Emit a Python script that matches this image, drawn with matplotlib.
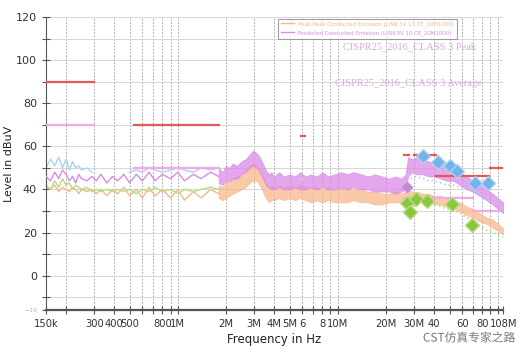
import matplotlib
matplotlib.use("Agg")
import matplotlib.pyplot as plt
import matplotlib.patheffects as pe
import numpy as np

# ---- data (frequencies in MHz, levels in dBuV) ----
f_lo = [0.15, 0.16, 0.17, 0.18, 0.19, 0.20, 0.21, 0.22, 0.23, 0.24, 0.25, 0.27, 0.29, 0.31, 0.33, 0.36,
        0.39, 0.42, 0.46, 0.50, 0.55, 0.60, 0.66, 0.72, 0.80, 0.90, 1.0, 1.1, 1.25, 1.4, 1.6, 1.8]
blue_lo = [50, 54, 51, 55, 50, 54, 49, 53, 50, 51, 49, 50, 48, np.nan, np.nan, np.nan,
           np.nan, np.nan, np.nan, 48, 49, 48, 50, 49, 48, 49, 50, 49, 48, 50, 49, 50]
violet_lo = [46, 44, 48, 45, 49, 47, 44, 46, 43, 47, 45, 44, 46, 44, 47, 43,
             46, 44, 47, 43, 47, 44, 48, 44, 47, 45, 48, 44, 47, 45, 48, 46]
green_lo = [42, 40, 44, 41, 45, 42, 43, 40, 42, 41, 40, 41, 39, 40, 39, 40,
            39, 40, 39, 40, 38, 40, 39, 41, 39, 40, 38, 40, 39, 40, 41, 40]
orange_lo = [41, 40, 42, 39, 41, 40, 39, 41, 40, 38, 40, 39, 40, 38, 40, 37,
             40, 38, 41, 37, 40, 36, 41, 37, 40, 36, 40, 35, 39, 36, 40, 38]

f_hi = [1.8, 1.9, 2.0, 2.1, 2.2, 2.35, 2.5, 2.65, 2.8, 2.95, 3.1, 3.25, 3.4, 3.55, 3.7, 3.85, 4.0, 4.3,
        4.6, 5.0, 5.4, 5.8, 6.3, 6.8, 7.4, 8.0, 8.7, 9.5, 10.5, 11.5, 12.5, 14, 15.5, 17, 19, 21, 23, 25,
        26.5, 27.5, 29, 31, 34, 37, 40, 44, 48, 53, 58, 64, 70, 77, 85, 93, 100, 108]
violet_hi_top = [50, 48, 51, 50, 52, 51, 53, 54, 56, 58, 57, 55, 52, 49, 47, 48, 46, 48,
                 46, 47, 46, 48, 46, 47, 46, 48, 46, 47, 48, 47, 48, 47, 46, 47, 46, 45, 46, 45,
                 47, 55, 54, 55, 54, 53, 52, 52, 51, 50, 48, 46, 44, 42, 40, 38, 36, 34]
violet_hi_bot = [43, 42, 44, 44, 45, 45, 47, 48, 50, 51, 50, 48, 45, 42, 41, 40, 40, 41,
                 40, 40, 41, 40, 40, 41, 40, 41, 40, 40, 41, 40, 41, 40, 40, 39, 39, 39, 38, 39,
                 40, 46, 48, 47, 47, 46, 46, 45, 44, 44, 42, 40, 39, 37, 35, 33, 31, 29]
orange_hi_top = [42, 41, 43, 44, 45, 46, 47, 49, 51, 52, 51, 49, 46, 43, 41, 42, 41, 42,
                 41, 42, 41, 42, 41, 41, 41, 40, 41, 40, 41, 40, 40, 40, 39, 39, 38, 38, 39, 38,
                 39, 40, 39, 39, 38, 38, 37, 37, 36, 35, 34, 32, 31, 29, 27, 26, 24, 22]
orange_hi_bot = [36, 35, 36, 37, 38, 39, 40, 41, 43, 44, 44, 42, 39, 36, 34, 35, 35, 36,
                 35, 36, 35, 36, 35, 34, 35, 34, 35, 34, 34, 34, 35, 34, 34, 33, 33, 34, 34, 34,
                 35, 36, 35, 35, 34, 34, 33, 33, 32, 31, 30, 28, 27, 25, 24, 22, 21, 19]

f_vhf = [27.5, 29, 31, 34, 37, 40, 44, 48, 53, 58, 64, 70, 77, 85, 93, 100, 108]
blue_vhf = [47, 45, 46, 45, 44, 44, 43, 42, 42, 41, 40, 40, 38, 36, 34, 33, 32]
green_vhf = [36, 35, 34, 35, 33, 34, 32, 31, 30, 29, 27, 25, 23, 21, 20, 19, 18]

# final measurement points
f_blue_pts = [34.0, 42.3, 50.2, 55.6, 72.0, 86.8]
v_blue_pts = [55.6, 52.9, 51.0, 48.7, 42.8, 42.8]
f_green_pts = [27.0, 28.2, 30.8, 36.1, 51.6, 68.9]
v_green_pts = [33.6, 29.4, 35.4, 34.5, 33.1, 23.4]
f_violet_pts = [27.0]
v_violet_pts = [41.0]

# CISPR25 class 3 limit segments (start MHz, stop MHz, level)
peak_lim = [(0.15, 0.30, 90), (0.53, 1.8, 70), (5.9, 6.2, 65), (26, 28, 56), (30, 41, 56),
            (41, 88, 46), (90, 108, 50)]
avg_lim = [(0.15, 0.30, 70), (0.53, 1.8, 50), (5.9, 6.2, 45), (26, 28, 36), (30, 70, 36),
           (70, 100, 30)]

xtick_lab = {0.15: "150k", 0.3: "300", 0.4: "400", 0.5: "500", 0.8: "800", 1: "1M", 2: "2M", 3: "3M",
             4: "4M", 5: "5M", 6: "6", 8: "8", 10: "10M", 20: "20M", 30: "30M", 40: "40",
             60: "60", 80: "80", 108: "108M"}
legend_lab = ["Peak-Peak Conducted Emission (LISN 5V 10 CE_20M1000)",
              "Predicted Conducted Emission (LISN 5V 10 CE_20M1000)"]

C_ORANGE, C_VIOLET, C_BLUE, C_GREEN = "#f8b88c", "#dc8ae8", "#a9d3f2", "#b6de7c"
C_PEAK, C_AVG = "#e25a58", "#f3a8ec"

M = 1e6
fig = plt.figure(figsize=(5.23, 3.54), dpi=100)
ax = fig.add_axes([0.088, 0.124, 0.874, 0.828])
ax.set_xscale("log")
ax.set_xlim(0.15 * M, 108 * M); ax.set_ylim(-16, 120)

# traces
fhi = np.array(f_hi) * M
ax.fill_between(fhi, orange_hi_bot, orange_hi_top, color=C_ORANGE, lw=0.6, alpha=0.75, zorder=2)
ax.fill_between(fhi, violet_hi_bot, violet_hi_top, color=C_VIOLET, lw=0.6, alpha=0.75, zorder=3)
flo = np.array(f_lo) * M
ax.plot(flo, orange_lo, color=C_ORANGE, lw=1.0, zorder=2)
ax.plot(flo, green_lo, color=C_GREEN, lw=1.0, zorder=2)
ax.plot(flo, blue_lo, color=C_BLUE, lw=1.0, zorder=2)
ax.plot(flo, violet_lo, color=C_VIOLET, lw=1.0, zorder=3)
fv = np.array(f_vhf) * M
ax.plot(fv, blue_vhf, color=C_BLUE, lw=1.2, ls=":", zorder=4)
ax.plot(fv, green_vhf, color=C_GREEN, lw=1.2, ls=":", zorder=4)

# limit lines
for a, b, v in avg_lim:
    ax.plot([a * M, b * M], [v, v], color=C_AVG, lw=1.6, zorder=5)
for a, b, v in peak_lim:
    ax.plot([a * M, b * M], [v, v], color=C_PEAK, lw=1.6, zorder=5)

# measurement points
ax.plot(np.array(f_green_pts) * M, v_green_pts, "D", color="#8cc63f", ms=7, mec="#b5dc80", zorder=6)
ax.plot(np.array(f_blue_pts) * M, v_blue_pts, "D", color="#74b3e8", ms=7, mec="#a9d3f2", zorder=6)
ax.plot(np.array(f_violet_pts) * M, v_violet_pts, "D", color="#c48ad8", ms=5, zorder=6)

# axes styling
ticks = [0.15, 0.2, 0.3, 0.4, 0.5, 0.6, 0.7, 0.8, 0.9, 1, 2, 3, 4, 5, 6, 7, 8, 9, 10,
         20, 30, 40, 50, 60, 70, 80, 90, 100, 108]
ax.set_xticks([t * M for t in ticks])
ax.set_xticklabels([xtick_lab.get(t, "") for t in ticks])
ax.xaxis.set_minor_locator(matplotlib.ticker.NullLocator())
ax.set_yticks([-16, 0, 20, 40, 60, 80, 100, 120])
ax.set_yticks(range(-10, 120, 10), minor=True)
ax.tick_params(axis="both", which="both", direction="inout", length=6, width=0.8, color="#555555",
               labelsize=8, labelcolor="#333333")
ax.tick_params(axis="x", labelsize=7.2)
ax.get_yticklabels()[0].set_fontsize(4.5); ax.get_yticklabels()[0].set_color("#bbbbbb")
ax.grid(axis="x", color="#999999", ls=(0, (2, 2)), lw=0.6)
ax.grid(axis="y", which="both", color="#d0d0d0", lw=0.6)
ax.set_axisbelow(True)
for s in ["top", "right"]:
    ax.spines[s].set_visible(False)
ax.spines["left"].set_color("#555555")
ax.spines["bottom"].set_color("#555555"); ax.spines["bottom"].set_linewidth(1.6)
ax.set_ylabel("Level in dBuV", fontsize=8, color="#222222", labelpad=1)
ax.set_xlabel("Frequency in Hz", fontsize=8.5, color="#222222", labelpad=3)

ax.text(10.8 * M, 106, "CISPR25_2016_CLASS 3 Peak", family="Liberation Serif", fontsize=7.5,
        color="#dba6e0", va="center")
ax.text(9.6 * M, 89, "CISPR25_2016_CLASS 3 Average", family="Liberation Serif", fontsize=7.5,
        color="#dba6e0", va="center")

h1, = ax.plot([], [], color=C_ORANGE, lw=1)
h2, = ax.plot([], [], color=C_VIOLET, lw=1)
leg = fig.legend([h1, h2], legend_lab, loc="upper left", bbox_to_anchor=(0.526, 0.955), fontsize=3.9,
                 labelcolor="linecolor", frameon=True, fancybox=False, edgecolor="#888888",
                 borderpad=0.5, handlelength=2.5, labelspacing=0.6)
leg.get_frame().set_linewidth(0.8)

fig.text(0.985, 0.045, "CST仿真专家之路", family=["Noto Sans CJK SC", "DejaVu Sans"], fontsize=8.5,
         color="#777777", ha="right", va="center",
         path_effects=[pe.withStroke(linewidth=2, foreground="white")])

fig.savefig("out.png", dpi=100)
